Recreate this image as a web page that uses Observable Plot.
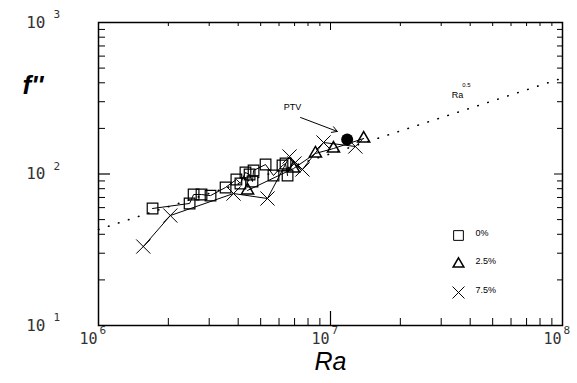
<!DOCTYPE html>
<html>
<head>
<meta charset="utf-8">
<script src="https://cdn.jsdelivr.net/npm/d3@7"></script>
<script src="https://cdn.jsdelivr.net/npm/@observablehq/plot@0.6"></script>
<style>
  html, body { margin: 0; padding: 0; background: #fff; }
  #chart svg { display: block; }
</style>
</head>
<body>
<div id="chart"></div>
<script>
// ---- data ----
const ra0 = [1.71e6, 2.47e6, 2.57e6, 2.78e6, 3.04e6, 3.53e6, 3.93e6, 4.09e6, 4.30e6, 4.48e6, 4.61e6, 4.66e6, 5.25e6, 5.68e6, 6.21e6, 6.40e6, 6.53e6];
const f0  = [59.2, 63.9, 73.2, 73.2, 72.0, 81.5, 92.0, 86.6, 102.3, 99.2, 89.2, 105.5, 115.5, 97.7, 113.8, 117.3, 97.7];

const ra25 = [4.39e6, 6.93e6, 8.61e6, 1.03e7, 1.39e7];
const f25  = [77.9, 108.7, 136.6, 147.3, 171.5];

const ra75 = [1.56e6, 2.04e6, 3.82e6, 5.35e6, 6.66e6, 6.99e6, 7.57e6, 9.33e6, 1.28e7];
const f75  = [33.2, 53.2, 74.3, 68.9, 130.5, 117.3, 107.1, 161.4, 151.9];

const ptvPoint = [{Ra: 1.18e7, f: 169}];
const ptvArrow = [{x1: 7.43e6, y1: 236, x2: 1.07e7, y2: 191}];
const ptvLabel = [{Ra: 6.86e6, f: 275, text: "PTV"}];

const fitRa = [1e6, 1e8];
const fitF  = [43.0, 430];
const fitLabel = [{Ra: 3.53e7, f: 330, text: "Ra"}];
const fitExp   = [{Ra: 3.85e7, f: 385, text: "0.5"}];

const xMajor = [1e6, 1e7, 1e8];
const xMinor = [2e6, 3e6, 4e6, 5e6, 6e6, 7e6, 8e6, 9e6, 2e7, 3e7, 4e7, 5e7, 6e7, 7e7, 8e7, 9e7];
const yMajor = [10, 100, 1000];
const yMinor = [20, 30, 40, 50, 60, 70, 80, 90, 200, 300, 400, 500, 600, 700, 800, 900];

const legendLabels = ["0%", "2.5%", "7.5%"];
const legendSymbols = ["square", "triangle", "times"];

const rows = (ra, f) => ra.map((r, i) => ({Ra: r, f: f[i]}));
const s0 = rows(ra0, f0), s25 = rows(ra25, f25), s75 = rows(ra75, f75);
const fit = rows(fitRa, fitF);

const W = 577, H = 383, mL = 98, mR = 15, mT = 22, mB = 58;
const pw = W - mL - mR, ph = H - mT - mB;
const mono = "DejaVu Sans Mono";
const sans = "Liberation Sans, Arial, sans-serif";

const chart = Plot.plot({
  width: W, height: H,
  marginLeft: mL, marginRight: mR, marginTop: mT, marginBottom: mB,
  x: {type: "log", domain: [1e6, 1e8], axis: null},
  y: {type: "log", domain: [10, 1000], axis: null},
  style: {background: "white", overflow: "visible"},
  marks: [
    // ticks (inward, all four sides)
    Plot.tickX(xMinor, {x: d => d, insetTop: ph - 7, stroke: "black"}),
    Plot.tickX(xMajor.slice(1, 2), {x: d => d, insetTop: ph - 14, stroke: "black", strokeWidth: 1.2}),
    Plot.tickX(xMinor, {x: d => d, insetBottom: ph - 4, stroke: "black"}),
    Plot.tickX(xMajor.slice(1, 2), {x: d => d, insetBottom: ph - 8, stroke: "black"}),
    Plot.tickY(yMinor, {y: d => d, insetRight: pw - 7, stroke: "black"}),
    Plot.tickY(yMajor.slice(1, 2), {y: d => d, insetRight: pw - 12, stroke: "black", strokeWidth: 1.2}),
    Plot.tickY(yMinor, {y: d => d, insetLeft: pw - 5, stroke: "black"}),
    Plot.tickY(yMajor.slice(1, 2), {y: d => d, insetLeft: pw - 8, stroke: "black"}),
    Plot.frame({stroke: "black", strokeWidth: 1.5}),

    // tick labels
    Plot.text(xMajor, {x: d => d, frameAnchor: "bottom", text: () => "10", textAnchor: "end", dx: -1, dy: 18, fontFamily: mono, fontSize: 15, fill: "#333"}),
    Plot.text(xMajor, {x: d => d, frameAnchor: "bottom", text: d => String(Math.round(Math.log10(d))), textAnchor: "start", dx: 1, dy: 8, fontFamily: mono, fontSize: 11, fill: "#333"}),
    Plot.text(yMajor, {y: d => d, frameAnchor: "left", text: () => "10", textAnchor: "end", dx: -53, dy: 0, fontFamily: mono, fontSize: 16, fill: "#333"}),
    Plot.text(yMajor, {y: d => d, frameAnchor: "left", text: d => String(Math.round(Math.log10(d))), textAnchor: "start", dx: -45, dy: -8, fontFamily: mono, fontSize: 11, fill: "#333"}),

    // axis titles
    Plot.text(["f''"], {frameAnchor: "top-left", text: d => d, dx: -76, dy: 53, fontFamily: sans, fontStyle: "italic", fontWeight: "bold", fontSize: 26, fill: "black"}),
    Plot.text(["Ra"], {frameAnchor: "bottom", text: d => d, dy: 44, fontFamily: sans, fontStyle: "italic", fontSize: 25, fill: "black"}),

    // Ra^0.5 fit line
    Plot.line(fit, {x: "Ra", y: "f", stroke: "black", strokeWidth: 1.6, strokeDasharray: "0.5,10", strokeLinecap: "round"}),
    Plot.text(fitLabel, {x: "Ra", y: "f", text: "text", fontFamily: sans, fontSize: 9, fill: "black"}),
    Plot.text(fitExp, {x: "Ra", y: "f", text: "text", fontFamily: sans, fontSize: 6, fill: "black"}),

    // series
    Plot.line(s0, {x: "Ra", y: "f", stroke: "black", strokeWidth: 1, sort: "Ra"}),
    Plot.line(s25, {x: "Ra", y: "f", stroke: "black", strokeWidth: 1, sort: "Ra"}),
    Plot.line(s75, {x: "Ra", y: "f", stroke: "black", strokeWidth: 1, sort: "Ra"}),
    Plot.dot(s0, {x: "Ra", y: "f", symbol: "square", r: 6, stroke: "black", strokeWidth: 1.2, fill: "none"}),
    Plot.dot(s25, {x: "Ra", y: "f", symbol: "triangle", r: 4.5, stroke: "black", strokeWidth: 1.5, fill: "none"}),
    Plot.dot(s75, {x: "Ra", y: "f", symbol: "times", r: 6.5, stroke: "black", strokeWidth: 1}),

    // PTV
    Plot.dot(ptvPoint, {x: "Ra", y: "f", r: 6, fill: "black"}),
    Plot.arrow(ptvArrow, {x1: "x1", y1: "y1", x2: "x2", y2: "y2", stroke: "black", strokeWidth: 1, headLength: 9}),
    Plot.text(ptvLabel, {x: "Ra", y: "f", text: "text", fontFamily: sans, fontSize: 9, fill: "black"}),

    // legend
    ...legendSymbols.map((s, i) => Plot.dot([s], {frameAnchor: "bottom-right", dx: -104, dy: -90 + 28.5 * i, symbol: () => s, r: s === "triangle" ? 4 : 5.5, stroke: "black", strokeWidth: s === "triangle" ? 1.5 : 1, fill: "none"})),
    ...legendLabels.map((t, i) => Plot.text([t], {frameAnchor: "bottom-right", dx: -87, dy: -90 + 28.5 * i, text: d => d, textAnchor: "start", fontFamily: sans, fontSize: 9, fill: "black"}))
  ]
});
document.getElementById("chart").appendChild(chart);
</script>
</body>
</html>
